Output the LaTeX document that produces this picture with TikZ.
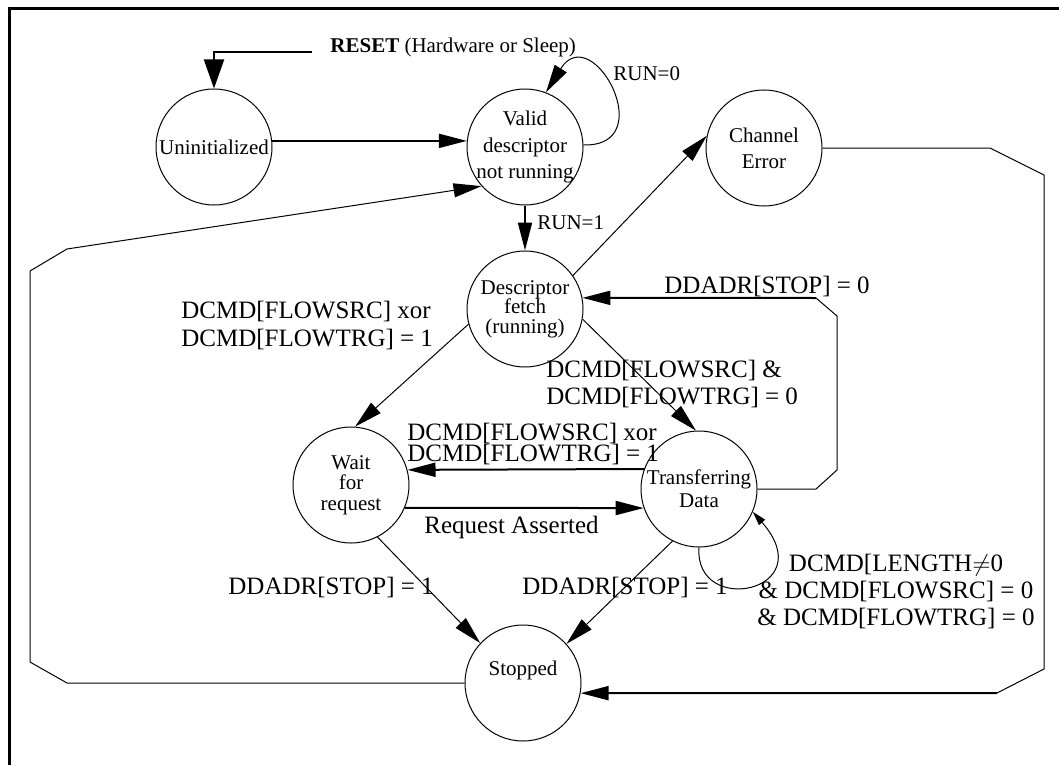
\documentclass[tikz,border=0pt]{standalone}
\usepackage{fontspec}
\setmainfont{Liberation Serif}
\usetikzlibrary{arrows.meta}

\tikzset{
  stnode/.style={draw, circle, line width=0.5pt, minimum size=58pt, inner sep=-10pt, align=center, font=\fontsize{10.5}{13}\selectfont},
  lbl/.style={inner sep=0pt, anchor=west, font=\fontsize{12.5}{14}\selectfont},
  smalllbl/.style={inner sep=0pt, anchor=west, font=\fontsize{10.5}{12}\selectfont},
  thinline/.style={line width=0.5pt},
  thickline/.style={line width=1pt},
  bigtip/.style={-{Triangle[length=14pt,width=7pt]}},
  resettip/.style={-{Triangle[length=14.5pt,width=10pt]}},
  looptip/.style={-{Triangle[length=7pt,width=4pt]}},
}

\begin{document}
\begin{tikzpicture}[x=0.5pt,y=-0.5pt]
\useasboundingbox (0,0) rectangle (1059,765);
\draw[line width=1.5pt] (1059,9) -- (9,9) -- (9,765);

% states
\node[stnode] (uni) at (214,147) {Uninitialized};
\node[stnode, font=\fontsize{10.5}{13.25}\selectfont] (val) at (525,147) {Valid\\descriptor\\not running};
\node[stnode] (err) at (764,148) {Channel\\Error};
\node[stnode, font=\fontsize{10.5}{9.8}\selectfont] (dsc) at (525,309) {Descriptor\\fetch\\(running)};
\node[stnode, font=\fontsize{10.5}{10.3}\selectfont] (wait) at (351,485) {Wait\\for\\request};
\node[stnode, font=\fontsize{10.5}{11.5}\selectfont] (trf) at (699,489) {Transferring\\Data};
\node[stnode] (stp) at (523,683) {\raisebox{14.3pt}{Stopped}};

% reset and start-up
\coordinate (rst) at (312,52);
\draw[thickline, resettip] (rst) -| (uni.north);
\node[smalllbl] (rsttxt) at (330,47) {\textbf{RESET} (Hardware or Sleep)};
\draw[thickline, bigtip] (uni.6) -- (val.174);
\draw[thinline, bigtip] (val.2) .. controls +(78,2) and +(46,-74) .. (val.69);
\node[smalllbl] (run0) at (613,74) {RUN=0};
\draw[thickline, bigtip] (val.south) -- (dsc.north);
\node[smalllbl] (run1) at (537,223) {RUN=1};

% from descriptor fetch
\draw[thinline, bigtip] (dsc.35) -- (err.168);
\draw[thinline, bigtip] (dsc.195) -- (wait.86);
\node[lbl, align=left] (flw1) at (181,325) {DCMD[FLOWSRC] xor\\DCMD[FLOWTRG] = 1};
\draw[thinline, bigtip] (dsc.-10) -- (trf.93);
\node[lbl, align=left, font=\fontsize{12.5}{13.5}\selectfont] (flw2) at (546,384) {DCMD[FLOWSRC] \&\\DCMD[FLOWTRG] = 0};

% wait <-> transfer
\draw[thickline, bigtip] (trf.160) -- (wait.15);
\node[lbl, align=left, font=\fontsize{12.5}{10.5}\selectfont] (flw3) at (407,444) {DCMD[FLOWSRC] xor\\DCMD[FLOWTRG] = 1};
\draw[thickline, bigtip] (wait.-23) -- (trf.199);
\node[lbl] (req) at (424,527) {Request Asserted};
\draw[thinline, looptip] (trf.-90) .. controls +(-5,70) and +(70,80) .. (trf.-23);
\node[lbl, anchor=center, align=center, font=\fontsize{12.5}{13.5}\selectfont] (len) at (896,591) {DCMD[LENGTH$\neq$0\\\& DCMD[FLOWSRC] = 0\\\& DCMD[FLOWTRG] = 0};

% to stopped
\draw[thinline, bigtip] (wait.-63) -- (stp.137);
\draw[thinline, bigtip] (trf.-117) -- (stp.42);
\node[lbl] (stop1) at (228,587) {DDADR[STOP] = 1};
\node[lbl] (stop2) at (522,587) {DDADR[STOP] = 1};

% back to descriptor fetch
\coordinate (ddc) at (816,298);
\draw[thinline] (trf.east) -- (816,489) -- (837,470) -- (837,316) -- (ddc);
\draw[thickline, bigtip] (ddc) -- (dsc.11);
\node[lbl] (stop0) at (664,286) {DDADR[STOP] = 0};

% channel error to stopped
\coordinate (errc) at (997,693);
\draw[thinline] (err.east) -- (990,148) -- (1044,175) -- (1044,669) -- (errc);
\draw[thickline, bigtip] (errc) -- (stp.-10);

% stopped back to valid
\draw[thinline, bigtip] (stp.west) -- (67,683) -- (30,662) -- (30,271) -- (67,249) -- (val.222);
\end{tikzpicture}
\end{document}
